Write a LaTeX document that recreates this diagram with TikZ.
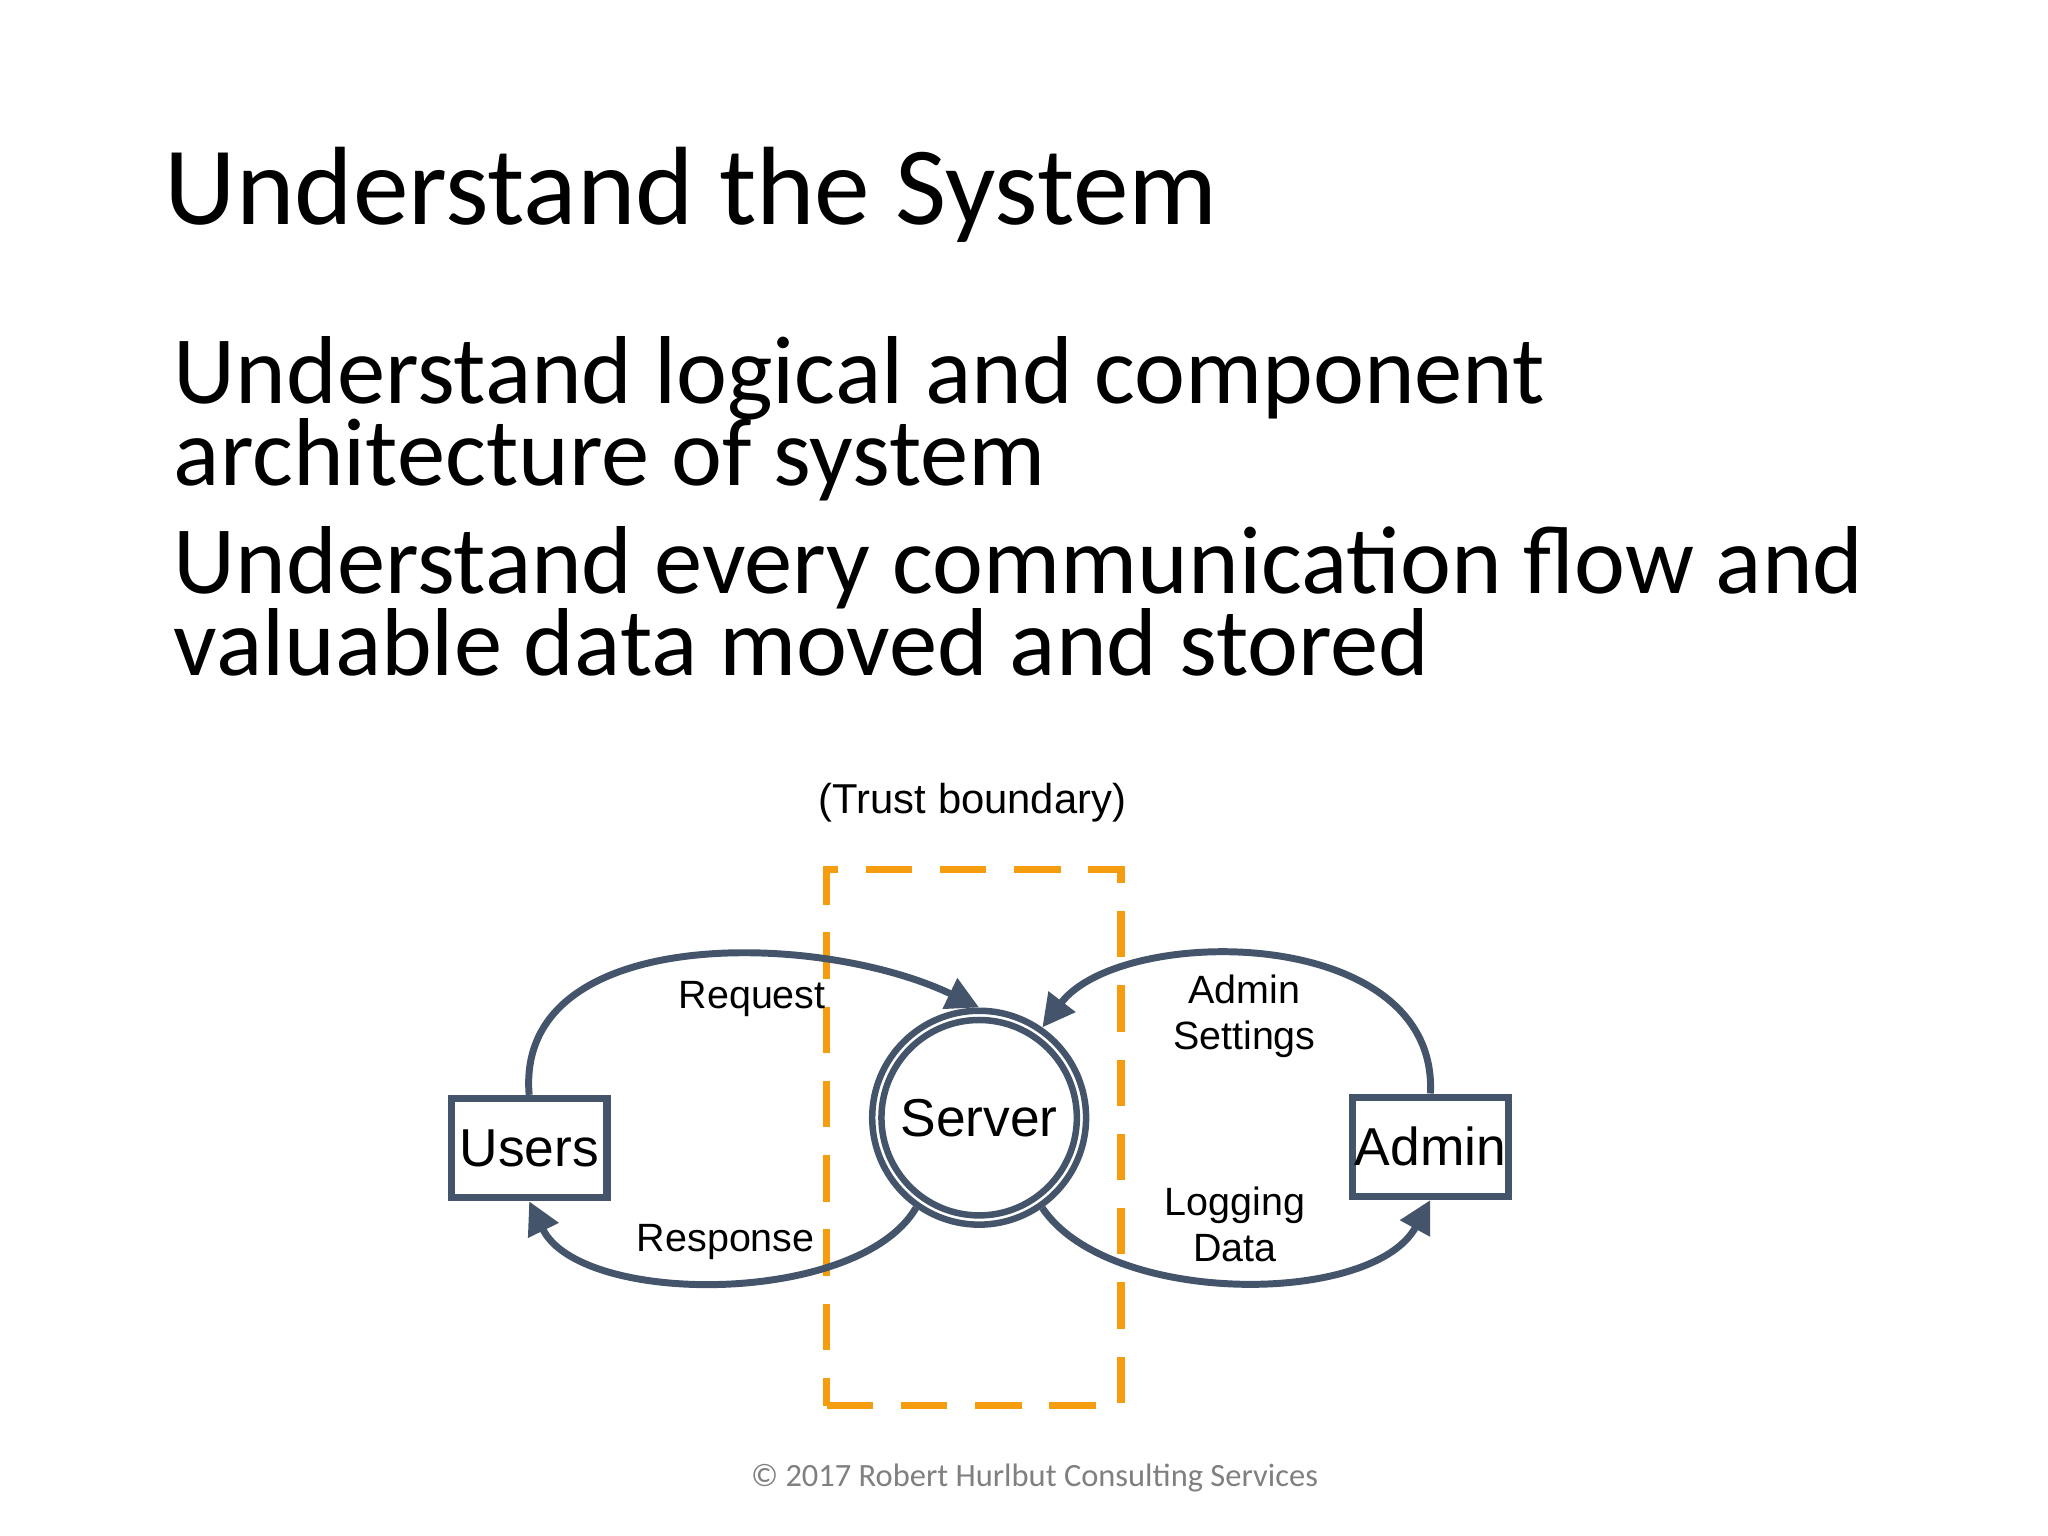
\documentclass[tikz,border=0pt]{standalone}
\usepackage{fontspec}
\setmainfont{Carlito}
\newfontfamily\arial{Liberation Sans}
\usetikzlibrary{arrows.meta}
\definecolor{edge}{HTML}{44546A}
\definecolor{trust}{HTML}{F59D0E}
\begin{document}
\begin{tikzpicture}[x=0.01cm,y=-0.01cm,
  box/.style={draw=edge,line width=1.6pt,minimum width=1.18cm,minimum height=0.75cm,inner sep=0pt,font=\arial\fontsize{11.5}{13}\selectfont},
  flow/.style={draw=edge,line width=1.5pt,-{Triangle[length=7pt,width=7pt]}},
  body/.style={anchor=base west,inner sep=0pt,font=\fontsize{20.8}{24}\selectfont},
  lbl/.style={font=\arial\fontsize{8.5}{10}\selectfont,align=center,inner sep=1pt}]
\useasboundingbox (0,0) rectangle (1552,1164);
\node[anchor=base west,inner sep=0pt,font=\fontsize{24}{28}\selectfont] (title) at (124,170) {Understand the System};
\node[body] (b1) at (131,306) {Understand logical and component};
\node[body] (b1b) at (131,368) {architecture of system};
\node[body] (b2) at (131,450) {Understand every communication flow and};
\node[body] (b2b) at (131,512) {valuable data moved and stored};
\node[lbl,font=\arial\fontsize{9}{10}\selectfont] (tb) at (737,608) {(Trust boundary)};
\node[draw=trust,dash pattern=on 10pt off 6pt,line width=1.6pt,minimum width=2.23cm,minimum height=4.06cm,inner sep=0pt] (trust) at (738,862) {};
\node[box] (users) at (401,870) {Users};
\node[box] (admin) at (1084,869) {Admin};
\node[circle,draw=edge,line width=1.4pt,minimum size=1.48cm,inner sep=0pt,font=\arial\fontsize{11.5}{13}\selectfont] (server) at (742,847) {Server};
\node[circle,draw=edge,line width=1.4pt,minimum size=1.62cm,inner sep=0pt] (servero) at (742,847) {};
\draw[flow] (users.north) .. controls (390,700) and (620,705) .. (servero.north);
\node[lbl] (req) at (570,757) {Request};
\draw[flow] (servero.235) .. controls (650,990) and (440,990) .. (users.south);
\node[lbl] (resp) at (550,941) {Response};
\draw[flow] (admin.north) .. controls (1090,700) and (850,700) .. (servero.55);
\node[lbl] (as) at (943,770) {Admin\\Settings};
\draw[flow] (servero.305) .. controls (840,990) and (1040,990) .. (admin.south);
\node[lbl] (ld) at (936,928) {Logging\\Data};
\node[font=\fontsize{7}{8}\selectfont,text=gray] (copy) at (784,1120) {\textcopyright{} 2017 Robert Hurlbut Consulting Services};
\end{tikzpicture}
\end{document}
